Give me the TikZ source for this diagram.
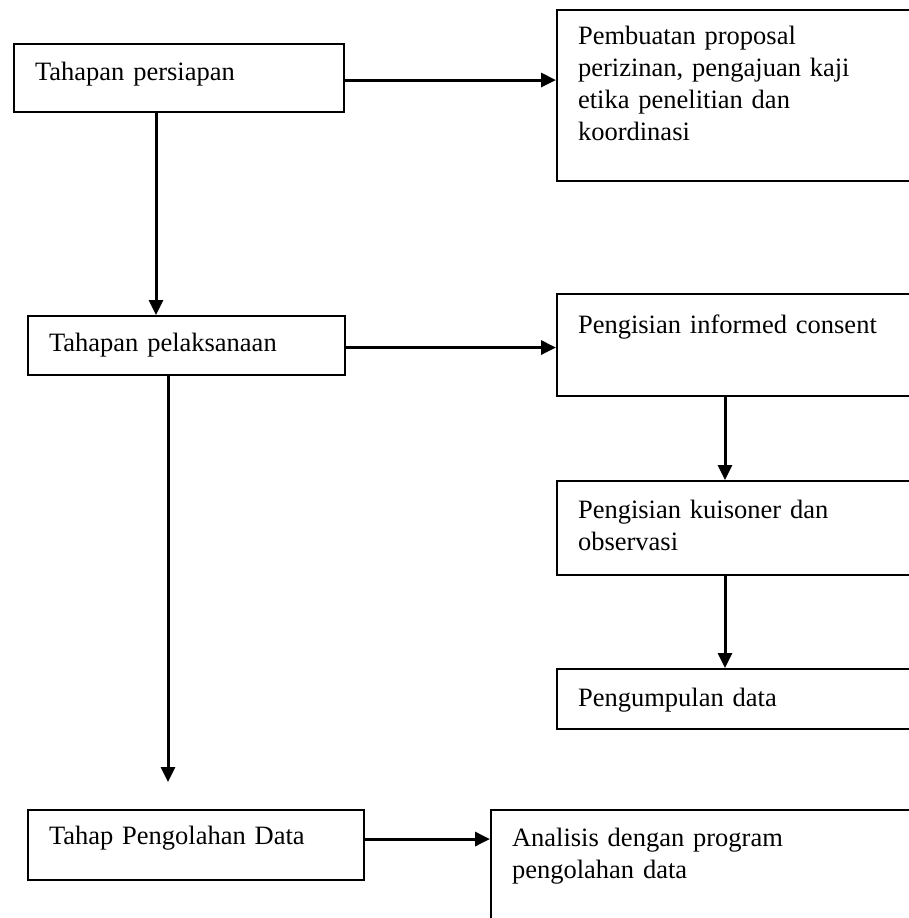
\documentclass[tikz,border=0pt]{standalone}
\usepackage{fontspec}
\setmainfont{Liberation Serif}
\usetikzlibrary{arrows.meta}

\begin{document}
\begin{tikzpicture}[x=1pt, y=-1pt, box/.style={draw, line width=2.1pt, anchor=north west, inner xsep=21pt, inner ysep=0pt, align=left, text height=36pt, font=\fontsize{26.5pt}{32pt}\selectfont}, panah/.style={-{Triangle[length=15pt,width=14pt]}, line width=3pt}]
\useasboundingbox (0,0) rectangle (908,918);
% left column
\node[box, text width=288pt, text depth=32pt] (persiapan) at (13,43) {Tahapan persiapan};
\node[box, text width=275pt, text depth=24pt, text height=35pt] (pelaksanaan) at (27,315) {Tahapan pelaksanaan};
\node[box, text width=294pt, text depth=36pt, text height=34pt] (pengolahan) at (27,809) {Tahap Pengolahan Data};
% right column
\node[box, text width=320pt, text depth=137pt, text height=34pt] (proposal) at (556,9) {Pembuatan proposal\\perizinan, pengajuan kaji\\etika penelitian dan\\koordinasi};
\node[box, text width=320pt, text depth=63pt, text height=39pt] (consent) at (556,293) {Pengisian informed consent};
\node[box, text width=320pt, text depth=57pt, text height=37pt] (kuisoner) at (556,480) {Pengisian kuisoner dan\\observasi};
\node[box, text width=320pt, text depth=23pt, text height=37pt] (kumpul) at (556,668) {Pengumpulan data};
\node[box, text width=386pt, text depth=84pt] (analisis) at (490,809) {Analisis dengan program\\pengolahan data};
% connectors
\coordinate (h1) at ([yshift=-2pt]persiapan.east);
\coordinate (h2) at ([yshift=-2pt]pelaksanaan.east);
\coordinate (h3) at ([yshift=6pt]pengolahan.east);
\coordinate (s1) at ([xshift=143pt]persiapan.south west);
\coordinate (s2) at ([xshift=141pt]pelaksanaan.south west);
\coordinate (ujung) at (168,782);
\coordinate (v1) at ([xshift=169pt]consent.south west);
\coordinate (v2) at ([xshift=169pt]kuisoner.south west);
\draw[panah] (h1) -- (h1 -| proposal.west);
\draw[panah] (h2) -- (h2 -| consent.west);
\draw[panah] (h3) -- (h3 -| analisis.west);
\draw[panah] (s1) -- (s1 |- pelaksanaan.north);
\draw[panah] (s2) -- (ujung);
\draw[panah] (v1) -- (v1 |- kuisoner.north);
\draw[panah] (v2) -- (v2 |- kumpul.north);
\end{tikzpicture}
\end{document}
